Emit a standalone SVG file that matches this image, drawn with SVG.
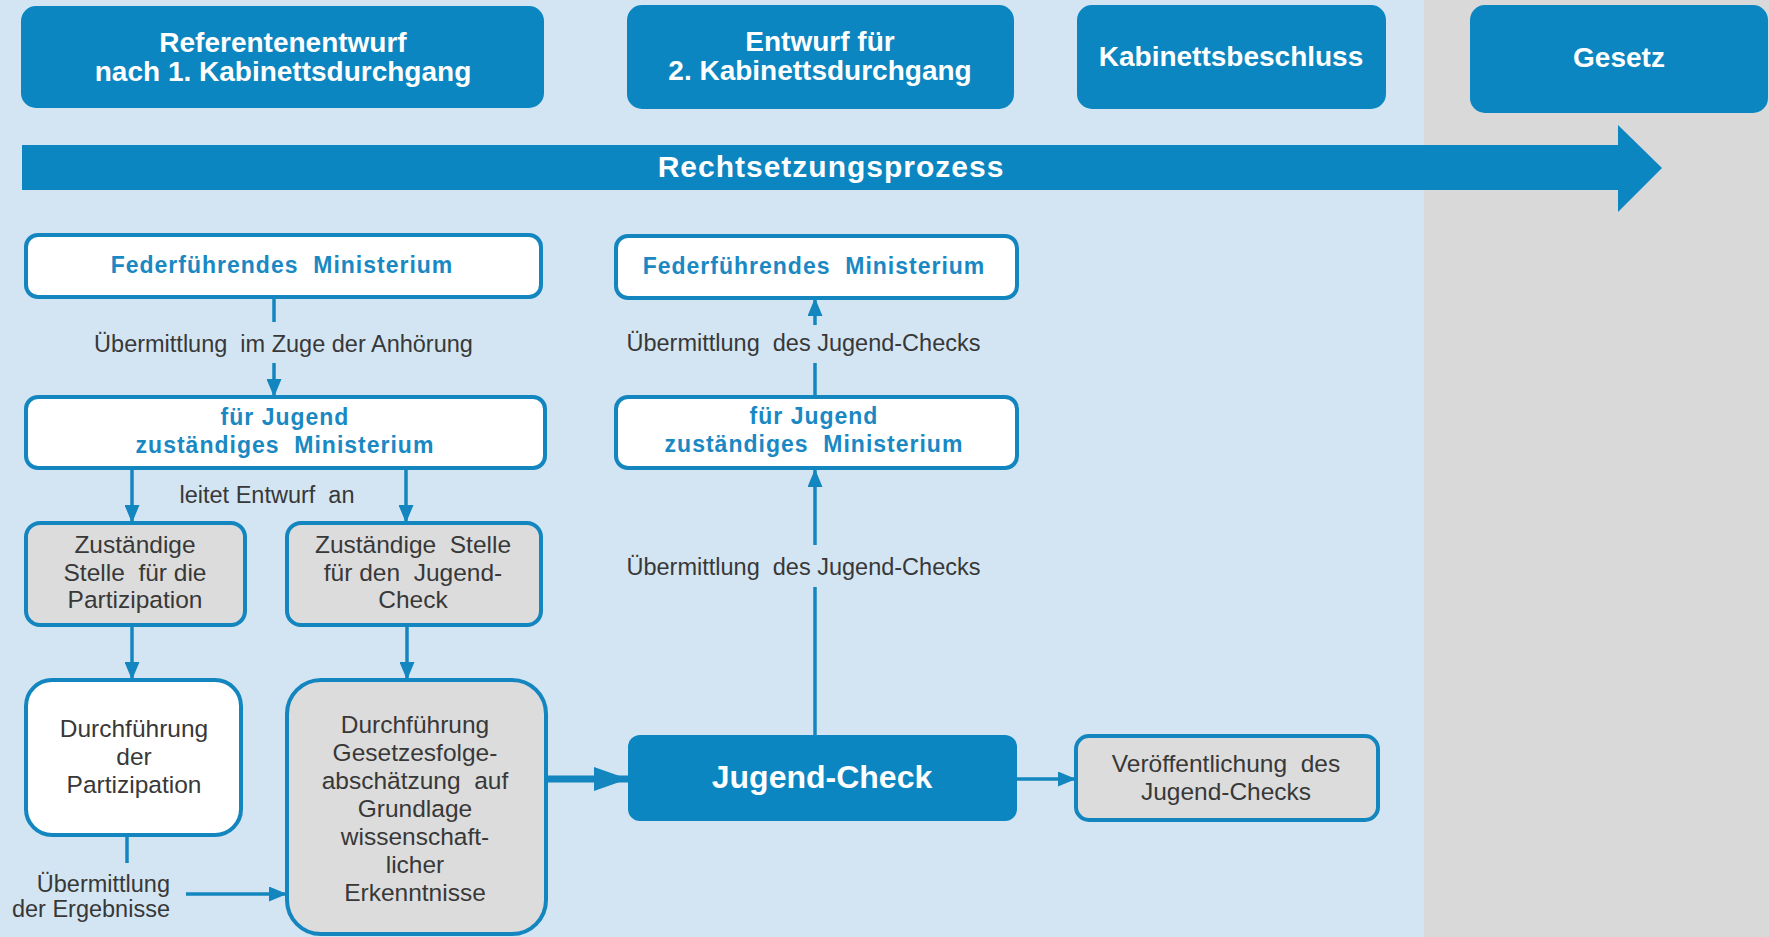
<svg xmlns="http://www.w3.org/2000/svg" width="1769" height="937" viewBox="0 0 1769 937">
<style>
.hdr{fill:#0b86c1}
.ht{fill:#ffffff;font-family:"Liberation Sans",Arial,sans-serif;font-weight:bold;font-size:28px;text-anchor:middle}
.wb{fill:#ffffff;stroke:#1486bf;stroke-width:4}
.gb{fill:#dcdcdc;stroke:#1486bf;stroke-width:4}
.bt{fill:#1a88c3;font-family:"Liberation Sans",Arial,sans-serif;font-weight:bold;font-size:23px;letter-spacing:1px;text-anchor:middle}
.dt{fill:#383838;font-family:"Liberation Sans",Arial,sans-serif;font-size:24.5px;text-anchor:middle}
.lt{fill:#383838;font-family:"Liberation Sans",Arial,sans-serif;font-size:23.5px;text-anchor:middle}
.c{fill:none;stroke:#1486bf;stroke-width:3.5}
.ca{fill:none;stroke:#1486bf;stroke-width:3.5;marker-end:url(#ah)}
</style>
<defs>
<marker id="ah" markerUnits="userSpaceOnUse" markerWidth="18" markerHeight="15" refX="18" refY="7.5" orient="auto">
<path d="M0,0 L18,7.5 L0,15 z" fill="#1486bf"/>
</marker>
<marker id="ahb" markerUnits="userSpaceOnUse" markerWidth="34" markerHeight="24" refX="34" refY="12" orient="auto">
<path d="M0,0 L34,12 L0,24 z" fill="#1486bf"/>
</marker>
</defs>
<rect x="0" y="0" width="1424" height="937" fill="#d3e5f3"/>
<rect x="1424" y="0" width="345" height="937" fill="#d9d9d9"/>

<g id="phase-referentenentwurf">
<rect class="hdr" x="21" y="6" width="523" height="102" rx="15"/>
<text class="ht" x="283" y="52">Referentenentwurf</text>
<text class="ht" x="283" y="81">nach 1. Kabinettsdurchgang</text>
</g>
<g id="phase-entwurf">
<rect class="hdr" x="627" y="5" width="387" height="104" rx="15"/>
<text class="ht" x="820" y="51">Entwurf für</text>
<text class="ht" x="820" y="80">2. Kabinettsdurchgang</text>
</g>
<g id="phase-kabinett">
<rect class="hdr" x="1077" y="5" width="309" height="104" rx="15"/>
<text class="ht" x="1231" y="66">Kabinettsbeschluss</text>
</g>
<g id="phase-gesetz">
<rect class="hdr" x="1470" y="5" width="298" height="108" rx="15"/>
<text class="ht" x="1619" y="67">Gesetz</text>
</g>
<g id="process-arrow">
<path d="M22,145 L1618,145 L1618,125 L1662,168 L1618,212 L1618,190 L22,190 z" fill="#0b86c1"/>
<text x="831" y="177" fill="#ffffff" font-family="Liberation Sans, Arial, sans-serif" font-weight="bold" font-size="30" letter-spacing="1" text-anchor="middle">Rechtsetzungsprozess</text>
</g>

<g id="connectors">
<line class="c" x1="274" y1="297" x2="274" y2="322"/>
<line class="ca" x1="274" y1="363" x2="274" y2="397"/>
<line class="ca" x1="132" y1="468" x2="132" y2="523"/>
<line class="ca" x1="406" y1="468" x2="406" y2="523"/>
<line class="ca" x1="132" y1="625" x2="132" y2="680"/>
<line class="ca" x1="407" y1="625" x2="407" y2="680"/>
<line class="c" x1="127" y1="835" x2="127" y2="863"/>
<line class="ca" x1="186" y1="894" x2="287" y2="894"/>
<line x1="546" y1="779" x2="628" y2="779" stroke="#1486bf" stroke-width="7" marker-end="url(#ahb)"/>
<line class="ca" x1="1017" y1="779" x2="1076" y2="779"/>
<line class="c" x1="815" y1="735" x2="815" y2="587"/>
<line class="ca" x1="815" y1="545" x2="815" y2="469"/>
<line class="c" x1="815" y1="397" x2="815" y2="363"/>
<line class="ca" x1="815" y1="325" x2="815" y2="298"/>
<text class="lt" x="283.5" y="352" xml:space="preserve">Übermittlung  im Zuge der Anhörung</text>
<text class="lt" x="267" y="503" xml:space="preserve">leitet Entwurf  an</text>
<text class="lt" x="803.5" y="351" xml:space="preserve">Übermittlung  des Jugend-Checks</text>
<text class="lt" x="803.5" y="575" xml:space="preserve">Übermittlung  des Jugend-Checks</text>
<text class="lt" x="170" y="892" style="text-anchor:end">Übermittlung</text>
<text class="lt" x="170" y="917" style="text-anchor:end">der Ergebnisse</text>
</g>

<g id="fm-left">
<rect class="wb" x="26" y="235" width="515" height="62" rx="12"/>
<text class="bt" x="282" y="273" xml:space="preserve">Federführendes  Ministerium</text>
</g>
<g id="jm-left">
<rect class="wb" x="26" y="397" width="519" height="71" rx="12"/>
<text class="bt" x="285" y="425">für Jugend</text>
<text class="bt" x="285" y="453" xml:space="preserve">zuständiges  Ministerium</text>
</g>
<g id="stelle-partizipation">
<rect class="gb" x="26" y="523" width="219" height="102" rx="14"/>
<text class="dt" x="135" y="553">Zuständige</text>
<text class="dt" x="135" y="581" xml:space="preserve">Stelle  für die</text>
<text class="dt" x="135" y="608">Partizipation</text>
</g>
<g id="stelle-jugendcheck">
<rect class="gb" x="287" y="523" width="254" height="102" rx="14"/>
<text class="dt" x="413" y="553" xml:space="preserve">Zuständige  Stelle</text>
<text class="dt" x="413" y="581" xml:space="preserve">für den  Jugend-</text>
<text class="dt" x="413" y="608">Check</text>
</g>
<g id="durchfuehrung-partizipation">
<rect class="wb" x="26" y="680" width="215" height="155" rx="26"/>
<text class="dt" x="134" y="737">Durchführung</text>
<text class="dt" x="134" y="765">der</text>
<text class="dt" x="134" y="793">Partizipation</text>
</g>
<g id="gesetzesfolgenabschaetzung">
<rect class="gb" x="287" y="680" width="259" height="254" rx="34"/>
<text class="dt" x="415" y="733">Durchführung</text>
<text class="dt" x="415" y="761">Gesetzesfolge-</text>
<text class="dt" x="415" y="789" xml:space="preserve">abschätzung  auf</text>
<text class="dt" x="415" y="817">Grundlage</text>
<text class="dt" x="415" y="845">wissenschaft-</text>
<text class="dt" x="415" y="873">licher</text>
<text class="dt" x="415" y="901">Erkenntnisse</text>
</g>
<g id="jugend-check">
<rect class="hdr" x="628" y="735" width="389" height="86" rx="12"/>
<text x="822" y="788" fill="#ffffff" font-family="Liberation Sans, Arial, sans-serif" font-weight="bold" font-size="32" text-anchor="middle">Jugend-Check</text>
</g>
<g id="veroeffentlichung">
<rect class="gb" x="1076" y="736" width="302" height="84" rx="13"/>
<text class="dt" x="1226" y="772" xml:space="preserve">Veröffentlichung  des</text>
<text class="dt" x="1226" y="800">Jugend-Checks</text>
</g>
<g id="jm-right">
<rect class="wb" x="616" y="397" width="401" height="71" rx="12"/>
<text class="bt" x="814" y="424">für Jugend</text>
<text class="bt" x="814" y="452" xml:space="preserve">zuständiges  Ministerium</text>
</g>
<g id="fm-right">
<rect class="wb" x="616" y="236" width="401" height="62" rx="12"/>
<text class="bt" x="814" y="274" xml:space="preserve">Federführendes  Ministerium</text>
</g>
</svg>
